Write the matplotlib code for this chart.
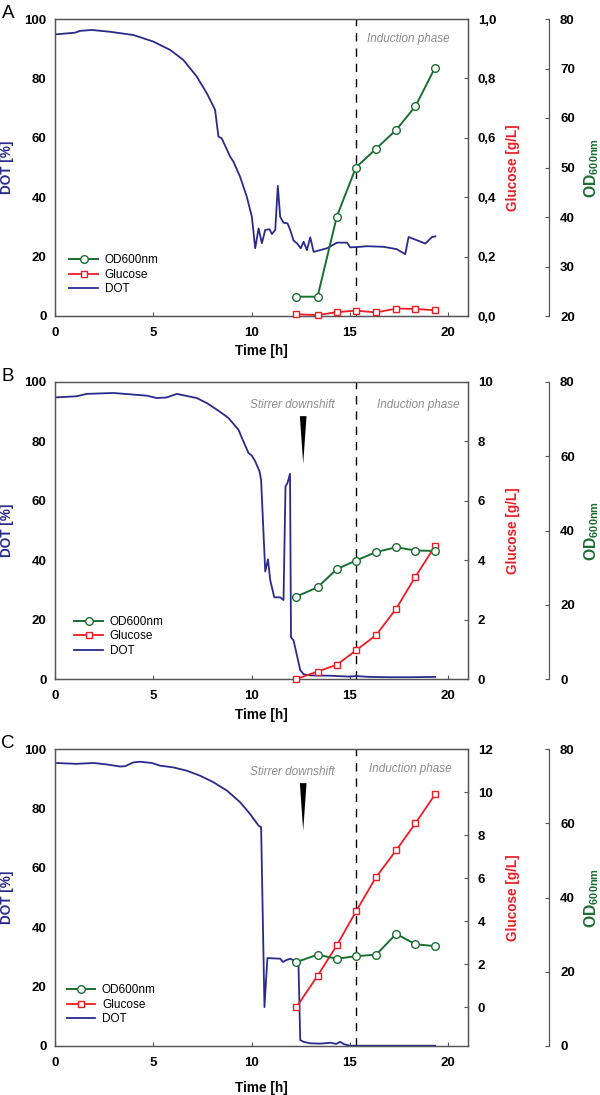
"""Three-panel fermentation time course: DOT, glucose and OD600 against time."""
import matplotlib
matplotlib.use("Agg")
import matplotlib.pyplot as plt
from matplotlib.ticker import FuncFormatter, MultipleLocator

plt.rcParams["font.family"] = ["Liberation Sans", "DejaVu Sans"]
plt.rcParams["mathtext.fontset"] = "custom"
plt.rcParams["mathtext.rm"] = "Liberation Sans"
plt.rcParams["mathtext.bf"] = "Liberation Sans:bold"

DOT_COLOR = "#2b2a8c"
GLC_COLOR = "#ee1c24"
OD_COLOR = "#1b6e32"
SPINE_COLOR = "#555555"

# sampling times shared by OD and glucose
sample_t = [12.27, 13.35, 14.33, 15.3, 16.33, 17.35, 18.33, 19.33]
induction_t = 15.3
downshift_t = 12.62

# --- panel A ----------------------------------------------------------------
a_dot_t = [0, 1.02, 1.27, 1.87, 2.8, 3.99, 5.0, 5.85, 6.53, 7.21, 7.72, 8.06,
           8.14, 8.31, 8.48, 8.91, 9.07, 9.41, 9.75, 10.01, 10.18, 10.35,
           10.52, 10.69, 10.91, 11.03, 11.2, 11.33, 11.45, 11.62, 11.82,
           11.96, 12.13, 12.3, 12.5, 12.64, 12.81, 12.98, 13.15, 13.83,
           14.34, 14.85, 15.01, 15.52, 15.86, 16.7, 17.38, 17.81, 17.98,
           18.83, 19.17, 19.34]
a_dot = [94.8, 95.4, 96.0, 96.3, 95.7, 94.6, 92.4, 89.6, 86.2, 80.6, 75.0,
         70.5, 69.4, 60.4, 59.8, 53.6, 52.0, 46.9, 40.2, 33.4, 22.8, 29.5,
         24.5, 29.0, 29.2, 27.6, 29.0, 43.8, 33.4, 31.4, 31.2, 29.0, 25.4,
         24.5, 22.8, 25.0, 22.2, 26.5, 21.6, 22.8, 24.7, 24.7, 23.1, 23.3,
         23.5, 23.3, 22.5, 20.8, 26.6, 24.4, 26.6, 26.8]
a_od = [23.9, 23.9, 40.1, 50.0, 53.8, 57.6, 62.4, 70.2]
a_glc = [0.006, 0.003, 0.013, 0.018, 0.012, 0.025, 0.024, 0.019]

# --- panel B ----------------------------------------------------------------
b_dot_t = [0, 1.1, 1.61, 2.97, 4.67, 5.17, 5.68, 6.19, 7.21, 7.72, 8.23,
           8.82, 9.33, 9.58, 9.84, 10.01, 10.18, 10.4, 10.48, 10.69, 10.83,
           10.94, 11.15, 11.45, 11.62, 11.72, 11.82, 11.95, 12.0, 12.13,
           12.47, 12.64, 13.0, 14.0, 15.0, 15.3, 16.0, 17.0, 18.0, 19.33]
b_dot = [94.8, 95.2, 96.0, 96.3, 95.4, 94.6, 94.8, 96.0, 94.6, 92.9, 90.7,
         87.9, 83.9, 80.0, 76.1, 75.2, 73.3, 69.9, 67.0, 36.2, 40.3, 33.4,
         27.5, 27.5, 26.6, 64.8, 66.0, 69.1, 14.0, 13.0, 3.0, 1.6, 1.2, 1.1,
         0.8, 1.0, 0.7, 0.6, 0.6, 0.7]
b_od = [22.2, 24.7, 29.6, 31.9, 34.2, 35.5, 34.6, 34.5]
b_glc = [0.0, 0.25, 0.48, 0.96, 1.48, 2.37, 3.45, 4.48]

# --- panel C ----------------------------------------------------------------
c_dot_t = [0, 1.1, 1.95, 2.63, 3.31, 3.56, 3.99, 4.33, 4.92, 5.34, 6.02,
           6.7, 7.38, 8.06, 8.74, 9.41, 9.92, 10.35, 10.48, 10.65, 10.8,
           11.45, 11.59, 11.79, 11.96, 12.21, 12.38, 12.47, 12.64, 12.98,
           13.5, 14.0, 14.3, 14.5, 14.7, 15.0, 16.0, 17.0, 18.0, 19.33]
c_dot = [95.3, 95.0, 95.3, 94.8, 94.1, 94.2, 95.5, 95.7, 95.3, 94.4, 93.8,
         92.7, 91.0, 88.8, 86.0, 82.1, 78.1, 74.2, 73.7, 13.1, 29.6, 29.4,
         28.3, 29.0, 29.4, 28.6, 27.7, 2.0, 1.4, 0.9, 0.8, 1.1, 0.7, 1.4,
         0.6, 0.1, 0.1, 0.1, 0.1, 0.1]
c_od = [22.6, 24.6, 23.5, 24.2, 24.6, 30.2, 27.4, 26.9]
c_glc = [0.0, 1.46, 2.88, 4.45, 6.05, 7.3, 8.55, 9.9]

panels = [
    # letter, dot t, dot, od, glc, glc lim, glc step, od lim, od step,
    # comma decimals, stirrer downshift?, bottom px, legend anchor,
    # time label y, induction text position
    ("A", a_dot_t, a_dot, a_od, a_glc, (0, 1.0), 0.2, (20, 80), 10, True,
     False, 316, (0.035, 0.07), -0.118, (17.95, 93.2)),
    ("B", b_dot_t, b_dot, b_od, b_glc, (0, 10), 2, (0, 80), 20, False,
     True, 679, (0.047, 0.075), -0.12, (18.45, 92.3)),
    ("C", c_dot_t, c_dot, c_od, c_glc, (-1.8, 12), 2, (0, 80), 20, False,
     True, 1046, (0.028, 0.07), -0.14, (18.05, 93.2)),
]

W, H = 600, 1095
fig = plt.figure(figsize=(W / 100, H / 100), dpi=100)

AX_L, AX_W, AX_H = 55, 413, 297
TICK_FS, LABEL_FS = 9.5, 9.8


def _bold_ticks(axis):
    for lab in axis.get_ticklabels():
        lab.set_fontweight("bold")


for (letter, dot_t, dot, od, glc, glim, gstep, olim, ostep, comma, downshift,
     bottom_px, leg_anchor, time_y, ind_xy) in panels:
    ax = fig.add_axes([AX_L / W, (H - bottom_px) / H, AX_W / W, AX_H / H])
    ax.set_xlim(0, 21)
    ax.set_ylim(0, 100)
    ax.xaxis.set_major_locator(MultipleLocator(5))
    ax.yaxis.set_major_locator(MultipleLocator(20))
    for sp in ax.spines.values():
        sp.set_color(SPINE_COLOR)
        sp.set_linewidth(0.9)
    ax.tick_params(direction="in", length=3, width=0.8, color=SPINE_COLOR,
                   labelsize=TICK_FS, pad=8)
    ax.tick_params(axis="y", length=0, pad=6)
    _bold_ticks(ax.xaxis)
    _bold_ticks(ax.yaxis)
    ax.set_xlabel("Time [h]", fontsize=LABEL_FS, fontweight="bold")
    ax.xaxis.set_label_coords(0.5, time_y)
    ax.xaxis.label.set_va("center")
    ax.set_ylabel("DOT [%]", fontsize=LABEL_FS, fontweight="bold",
                  color=DOT_COLOR)
    ax.yaxis.set_label_coords(-48 / AX_W, 0.5)
    ax.yaxis.label.set_va("center")

    ax.axvline(induction_t, color="black", lw=1.0, ls=(0, (6, 5)), zorder=1)
    ax.text(*ind_xy, "Induction phase", style="italic", color="#8c8c8c",
            fontsize=8.5, ha="center", va="center")
    if downshift:
        ax.text(downshift_t - 0.55, 92.3, "Stirrer downshift", style="italic",
                color="#8c8c8c", fontsize=8.5, ha="center", va="center")
        half = 0.17
        ax.fill([downshift_t - half, downshift_t + half, downshift_t],
                [88.5, 88.5, 72.5], color="black", lw=0, zorder=3)

    line_dot, = ax.plot(dot_t, dot, color=DOT_COLOR, lw=1.3, zorder=2)

    gx = ax.twinx()
    gx.set_ylim(*glim)
    gx.yaxis.set_major_locator(MultipleLocator(gstep))
    if glim[0] < 0:
        gx.set_yticks(list(range(0, 13, gstep)))
    if comma:
        gx.yaxis.set_major_formatter(
            FuncFormatter(lambda v, _: f"{v:.1f}".replace(".", ",")))
    gx.tick_params(direction="in", length=3, width=0.8, color=SPINE_COLOR,
                   labelsize=TICK_FS, pad=7)
    _bold_ticks(gx.yaxis)
    for sp in gx.spines.values():
        sp.set_color(SPINE_COLOR)
        sp.set_linewidth(0.9)
    gx.set_ylabel("Glucose [g/L]", fontsize=LABEL_FS, fontweight="bold",
                  color=GLC_COLOR)
    gx.yaxis.set_label_coords((512.7 - AX_L) / AX_W, 0.5)
    gx.yaxis.label.set_va("center")
    line_glc, = gx.plot(sample_t, glc, color=GLC_COLOR, lw=1.3, marker="s",
                        ms=5, mfc="white", mec=GLC_COLOR, mew=1.0,
                        clip_on=False, zorder=4)

    ox = ax.twinx()
    ox.spines["right"].set_position(("axes", (549 - AX_L) / AX_W))
    for side in ("top", "bottom", "left"):
        ox.spines[side].set_visible(False)
    ox.spines["right"].set_color(SPINE_COLOR)
    ox.spines["right"].set_linewidth(0.9)
    ox.set_ylim(*olim)
    ox.yaxis.set_major_locator(MultipleLocator(ostep))
    ox.tick_params(direction="in", length=3, width=0.8, color=SPINE_COLOR,
                   labelsize=TICK_FS, pad=8)
    _bold_ticks(ox.yaxis)
    ox.set_ylabel(r"$\mathbf{OD}_{\mathbf{600nm}}$", fontsize=LABEL_FS + 1.5,
                  color=OD_COLOR)
    ox.yaxis.set_label_coords((591.7 - AX_L) / AX_W, 0.5)
    ox.yaxis.label.set_va("center")
    line_od, = ox.plot(sample_t, od, color=OD_COLOR, lw=1.4, marker="o",
                       ms=5.5, mfc="white", mec=OD_COLOR, mew=1.0,
                       clip_on=False, zorder=4)

    leg = ax.legend([line_od, line_glc, line_dot],
                    ["OD600nm", "Glucose", "DOT"],
                    loc="lower left", bbox_to_anchor=leg_anchor,
                    frameon=False, fontsize=8.5, handlelength=2.4,
                    handletextpad=0.6, labelspacing=0.2, borderpad=0,
                    borderaxespad=0)
    # twins sit above the host axes; lift the legend above them
    leg.remove()
    ox.add_artist(leg)

    fig.text(8 / W, 1 - (bottom_px - AX_H - 6) / H, letter, fontsize=13.5,
             ha="center", va="center")

fig.savefig("out.png", dpi=100, facecolor="white")
